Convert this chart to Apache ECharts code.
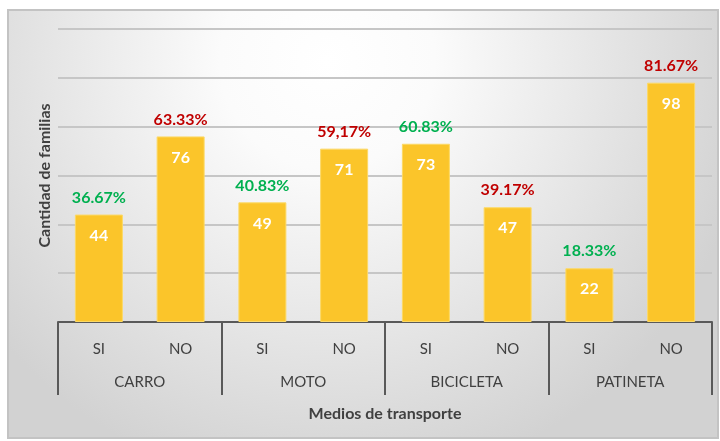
<!DOCTYPE html>
<html>
<head>
<meta charset="utf-8">
<script src="https://cdn.jsdelivr.net/npm/echarts@6/dist/echarts.min.js"></script>
<style>
  html, body { margin: 0; padding: 0; background: #fff; }
  #chart { width: 720px; height: 441px; }
</style>
</head>
<body>
<div id="chart"></div>
<script>
// datos
var respuestas = ['SI', 'NO', 'SI', 'NO', 'SI', 'NO', 'SI', 'NO'];
var medios = ['CARRO', 'MOTO', 'BICICLETA', 'PATINETA'];
var familias = [44, 76, 49, 71, 73, 47, 22, 98];
var porcentajes = ['36.67%', '63.33%', '40.83%', '59,17%', '60.83%', '39.17%', '18.33%', '81.67%'];

var fuente = 'Lato, "Open Sans", sans-serif';

var dataBarras = familias.map(function (v, i) {
  return {
    value: v,
    label: { color: respuestas[i] == 'SI' ? '#00B050' : '#C00000' }
  };
});

var chart = echarts.init(document.getElementById('chart'));
var option = {
  animation: false,
  textStyle: { fontFamily: fuente },
  graphic: [{
    type: 'rect',
    left: 7, top: 9,
    shape: { width: 710, height: 428 },
    z: -10,
    style: {
      fill: new echarts.graphic.RadialGradient(0.45, 0.12, 1.0, [
        { offset: 0, color: '#ffffff' },
        { offset: 0.25, color: '#fbfbfb' },
        { offset: 1, color: '#d2d2d2' }
      ]),
      stroke: '#c3c3c3',
      lineWidth: 2
    }
  }],
  grid: { left: 58, right: 8, top: 29, bottom: 119 },
  xAxis: [{
    type: 'category',
    data: respuestas,
    axisLine: { lineStyle: { color: '#595959', width: 2 } },
    axisTick: { show: false },
    axisLabel: { color: '#404040', fontSize: 15, margin: 20 }
  }, {
    type: 'category',
    data: medios,
    position: 'bottom',
    axisLine: { show: false },
    axisTick: { show: true, length: 73, lineStyle: { color: '#595959', width: 2 } },
    axisLabel: { color: '#404040', fontSize: 15, margin: 53 },
    name: 'Medios de transporte',
    nameLocation: 'middle',
    nameGap: 84,
    nameTextStyle: { color: '#404040', fontSize: 16, fontWeight: 'bold' }
  }],
  yAxis: {
    type: 'value',
    min: 0, max: 120, interval: 20,
    axisLabel: { show: false },
    axisLine: { show: false },
    axisTick: { show: false },
    splitLine: { lineStyle: { color: '#c6c6c6', width: 2 } },
    name: 'Cantidad de familias',
    nameLocation: 'middle',
    nameGap: 5,
    nameTextStyle: { color: '#404040', fontSize: 16, fontWeight: 'bold' }
  },
  series: [{
    type: 'bar',
    xAxisIndex: 0,
    data: familias,
    barWidth: 48,
    itemStyle: { color: '#FBC52A', borderColor: '#FCD965', borderWidth: 1 },
    label: {
      show: true, position: 'insideTop', distance: 13,
      color: '#ffffff', fontSize: 16, fontWeight: 'bold'
    }
  }, {
    type: 'bar',
    xAxisIndex: 0,
    data: dataBarras,
    barWidth: 48,
    barGap: '-100%',
    itemStyle: { color: 'rgba(0,0,0,0)' },
    label: {
      show: true, position: 'top', distance: 9,
      fontSize: 16, fontWeight: 'bold',
      formatter: function (p) { return porcentajes[p.dataIndex]; }
    }
  }]
};
chart.setOption(option);
</script>
</body>
</html>
